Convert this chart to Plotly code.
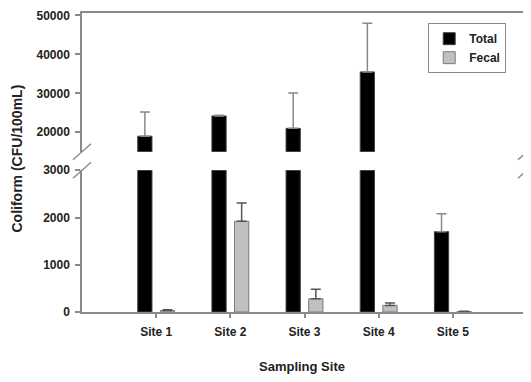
import plotly.graph_objects as go

sites = ["Site 1", "Site 2", "Site 3", "Site 4", "Site 5"]
total = [19000, 24200, 21000, 35500, 1700]
total_err = [6200, 150, 9100, 12500, 380]
fecal = [30, 1920, 280, 140, 10]
fecal_err = [15, 385, 200, 50, 5]

lower_ticks = [0, 1000, 2000, 3000]
upper_ticks = [20000, 30000, 40000, 50000]

FONT = "Arial, Liberation Sans, sans-serif"
GRAY = "#8a8a8a"
TXT = "#222222"
zeros = [0] * len(sites)

fig = go.Figure()
for ya, xa, show in [("y", "x", True), ("y2", "x2", False)]:
    fig.add_trace(go.Bar(
        x=sites, y=total, name="Total", xaxis=xa, yaxis=ya, showlegend=show,
        marker=dict(color="black", line=dict(color="#444444", width=1)),
        error_y=dict(type="data", array=total_err, arrayminus=zeros, symmetric=False,
                     color=GRAY, thickness=1.5, width=5),
        legendgroup="t"))
    fig.add_trace(go.Bar(
        x=sites, y=fecal, name="Fecal", xaxis=xa, yaxis=ya, showlegend=show,
        marker=dict(color="#c0c0c0", line=dict(color="#7a7a7a", width=1)),
        error_y=dict(type="data", array=fecal_err, arrayminus=zeros, symmetric=False,
                     color="#555555", thickness=1.5, width=5),
        legendgroup="f"))

tickfont = dict(family=FONT, size=12, color=TXT, weight="bold")
low_top = 0.474
up_bot = 0.536

# page body has an 8px margin, so the figure is offset by 8px; compensate
fig.update_layout(
    width=523, height=374,
    margin=dict(l=74, r=4, t=5, b=70),
    paper_bgcolor="white", plot_bgcolor="white",
    barmode="group", bargap=0.39, bargroupgap=0.37,
    showlegend=True,
    legend=dict(x=0.778, y=0.966, xanchor="left", yanchor="top",
                bgcolor="white", bordercolor=GRAY, borderwidth=1,
                font=dict(family=FONT, size=12, color=TXT, weight="bold"),
                tracegroupgap=0, entrywidth=92),
    xaxis=dict(domain=[0, 1], anchor="y", range=[-1, 5], showline=True, linecolor=GRAY,
               linewidth=1.5, ticks="outside", ticklen=4, tickcolor=GRAY, tickwidth=1.5,
               tickfont=tickfont, showgrid=False, zeroline=False, ticklabelstandoff=4,
               automargin=False),
    xaxis2=dict(domain=[0, 1], anchor="y2", matches="x", side="top", showline=True,
                linecolor=GRAY, linewidth=1.5, ticks="", showticklabels=False,
                showgrid=False, zeroline=False, automargin=False),
    yaxis=dict(domain=[0, low_top], range=[0, 3000], tickvals=lower_ticks, tickformat="d",
               showline=True, linecolor=GRAY, linewidth=1.5, mirror=True,
               ticks="outside", ticklen=5, tickcolor=GRAY, tickwidth=1.5,
               tickfont=tickfont, showgrid=False, zeroline=False, ticklabelstandoff=3,
               automargin=False, ticklabeloverflow="allow"),
    yaxis2=dict(domain=[up_bot, 1], range=[15000, 50630], tickvals=upper_ticks,
                tickformat="d", anchor="x2",
                showline=True, linecolor=GRAY, linewidth=1.5, mirror=True,
                ticks="outside", ticklen=5, tickcolor=GRAY, tickwidth=1.5,
                tickfont=tickfont, showgrid=False, zeroline=False, ticklabelstandoff=3,
                automargin=False, ticklabeloverflow="allow"),
)

# axis break marks
for xa in [0, 1]:
    for ya in [up_bot, low_top]:
        fig.add_shape(type="line", xref="paper", yref="paper",
                      xsizemode="pixel", ysizemode="pixel",
                      xanchor=xa, yanchor=ya, x0=-9, x1=9, y0=-8, y1=8,
                      line=dict(color=GRAY, width=1.5))

fig.add_annotation(text="Coliform (CFU/100mL)", xref="paper", yref="paper",
                   x=-0.145, y=0.515, textangle=-90, showarrow=False,
                   xanchor="center", yanchor="middle",
                   font=dict(family=FONT, size=14, color=TXT, weight="bold"))
fig.add_annotation(text="Sampling Site", xref="paper", yref="paper",
                   x=0.495, y=-0.183, showarrow=False,
                   xanchor="center", yanchor="middle",
                   font=dict(family=FONT, size=13, color=TXT, weight="bold"))

fig.write_html("out.html")
